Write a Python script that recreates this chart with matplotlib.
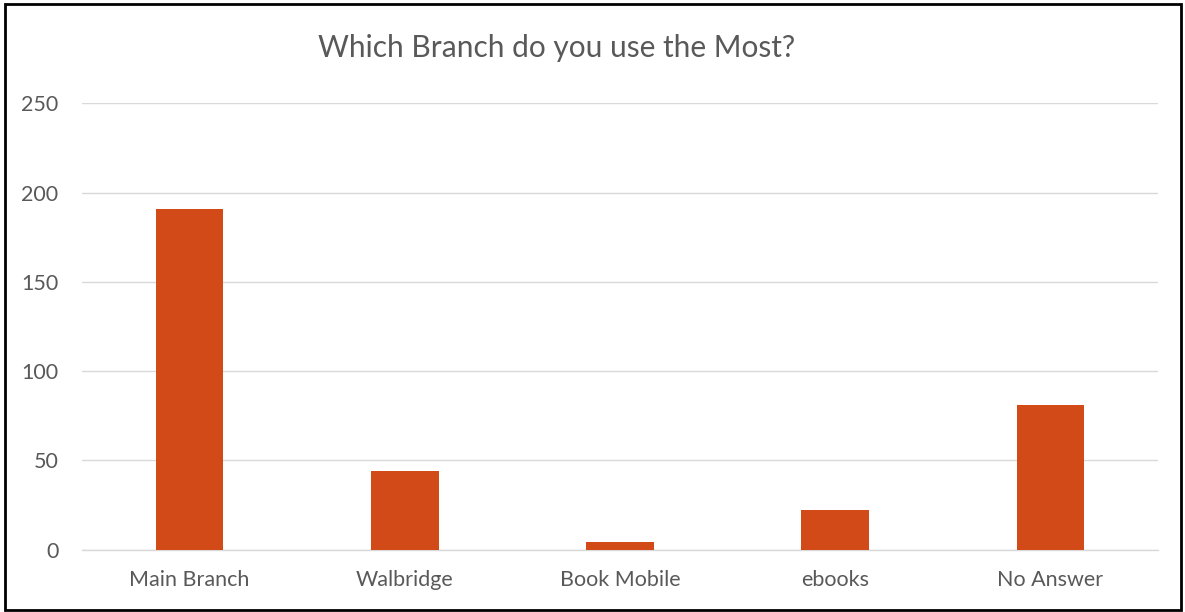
import matplotlib.pyplot as plt
import matplotlib.patches as mpatches

branches = ["Main Branch", "Walbridge", "Book Mobile", "ebooks", "No Answer"]
counts = [191, 44, 4, 22, 81]
yticks = [0, 50, 100, 150, 200, 250]

plt.rcParams['font.family'] = ['Lato', 'DejaVu Sans']

fig = plt.figure(figsize=(11.85, 6.12), dpi=100)
ax = fig.add_axes([0.0692, 0.1021, 0.908, 0.7291])

x = range(len(branches))
ax.bar(x, counts, width=0.314, color='#D24A17', zorder=3)

ax.set_xlim(-0.5, len(branches) - 0.5)
ax.set_ylim(0, 250)
ax.set_yticks(yticks)
ax.set_xticks(list(x))
ax.set_xticklabels(branches)

ax.grid(axis='y', color='#d9d9d9', linewidth=1.0, zorder=0)
for s in ['top', 'right', 'left']:
    ax.spines[s].set_visible(False)
ax.spines['bottom'].set_color('#d9d9d9')
ax.spines['bottom'].set_linewidth(1.0)
ax.tick_params(axis='both', length=0, labelsize=15.5, colors='#595959')
ax.tick_params(axis='y', pad=17)
ax.tick_params(axis='x', pad=15)

fig.text(0.470, 0.922, "Which Branch do you use the Most?", ha='center', va='center',
         fontsize=21.5, color='#595959')

# black border round the whole chart
border = mpatches.Rectangle((0.004, 0.003), 0.993, 0.991, transform=fig.transFigure,
                            fill=False, edgecolor='black', linewidth=2)
fig.patches.append(border)

plt.savefig("out.png", dpi=100)
